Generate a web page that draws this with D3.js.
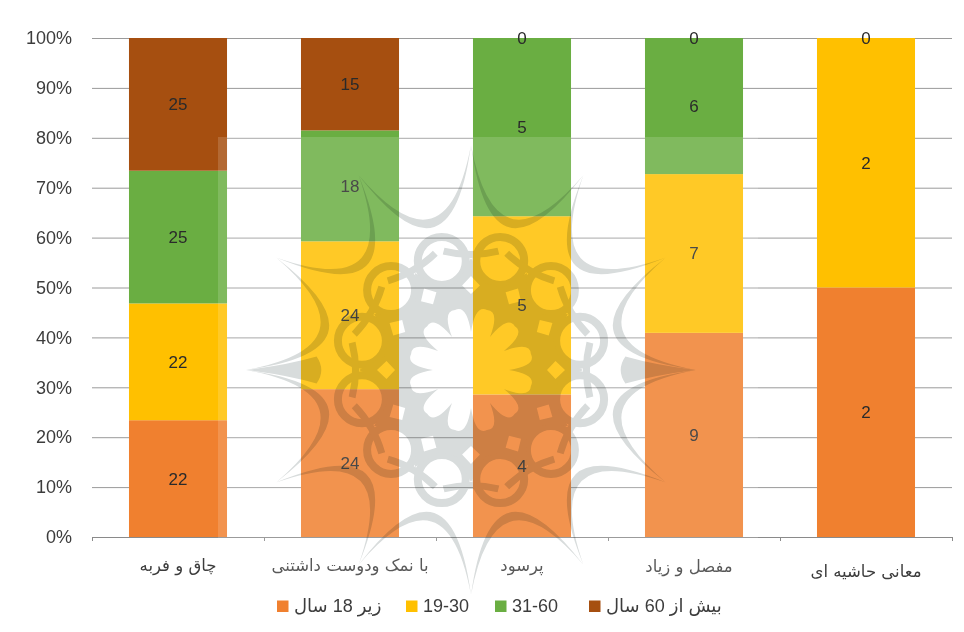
<!DOCTYPE html>
<html>
<head>
<meta charset="utf-8">
<script src="https://d3js.org/d3.v7.min.js"></script>
<style>
  html, body { margin: 0; padding: 0; background: #fff; }
  svg { display: block; }
  text { font-family: "Liberation Sans", "DejaVu Sans", sans-serif; }
</style>
</head>
<body>
<svg id="chart" width="964" height="632"></svg>
<script>
// values
const categories = ["چاق و فربه", "با نمک ودوست داشتنی", "پرسود", "مفصل و زیاد", "معانی حاشیه ای"]
const under18 = [22, 24, 4, 9, 2]
const age19to30 = [22, 24, 5, 7, 2]
const age31to60 = [25, 18, 5, 6, 0]
const over60 = [25, 15, 0, 0, 0]
const seriesNames = ["زیر 18 سال", "19-30", "31-60", "بیش از 60 سال"]
const percentTicks = [0, 0.1, 0.2, 0.3, 0.4, 0.5, 0.6, 0.7, 0.8, 0.9, 1]

const seriesValues = [under18, age19to30, age31to60, over60]
const colors = ["#F0802F", "#FFC000", "#6AAE42", "#A64F10"]

const marginLeft = 92, marginTop = 38
const chartWidth = 860, chartHeight = 499
const textColor = "#3c3c3c"

const svg = d3.select("#chart")
const g = svg.append("g").attr("transform", "translate(" + marginLeft + "," + marginTop + ")")

const rows = categories.map((c, i) => {
  const row = { category: c }
  seriesNames.forEach((s, j) => { row[s] = seriesValues[j][i] })
  return row
})
const stacked = d3.stack().keys(seriesNames).offset(d3.stackOffsetExpand)(rows)

const x = d3.scaleBand().domain(categories).range([0, chartWidth]).paddingInner(0.43).paddingOuter(0.215)
const y = d3.scaleLinear().domain([0, 1]).range([chartHeight, 0])

// gridlines and y labels
const yAxis = g.append("g")
  .call(d3.axisLeft(y).tickValues(percentTicks).tickFormat(d3.format(".0%")).tickSize(-chartWidth).tickPadding(20))
yAxis.select(".domain").remove()
yAxis.selectAll("line").attr("stroke", "#9a9a9a").attr("stroke-width", 1)
yAxis.selectAll("text").style("font-size", "18px").style("font-family", "'Liberation Sans'").attr("fill", textColor)

// bars
g.selectAll(".layer")
  .data(stacked)
  .join("g")
    .attr("class", "layer")
    .attr("fill", (d, i) => colors[i])
  .selectAll("rect")
  .data(d => d)
  .join("rect")
    .attr("x", d => x(d.data.category))
    .attr("width", x.bandwidth())
    .attr("y", d => y(d[1]))
    .attr("height", d => y(d[0]) - y(d[1]))

// x axis line with ticks on the category edges
const edges = d3.scaleLinear().domain([0, categories.length]).range([0, chartWidth])
const xAxis = g.append("g")
  .attr("transform", "translate(0," + chartHeight + ")")
  .call(d3.axisBottom(edges).tickValues(d3.range(categories.length + 1)).tickSize(4).tickSizeOuter(4).tickFormat(""))
xAxis.selectAll("path,line").attr("stroke", "#8a8a8a")

// the watermark image in the source washes out everything under it
svg.append("rect")
  .attr("x", 218).attr("y", 137).attr("width", 540).attr("height", 495)
  .attr("fill", "#fff").attr("opacity", 0.15)

// watermark rosette, multiply so it darkens bars as well as the white
const wmColor = "#d8dcdc"
const wm = svg.append("g")
  .attr("transform", "translate(471,370)")
  .style("mix-blend-mode", "multiply")
const polar = (r, deg) => {
  const a = deg * Math.PI / 180
  return (r * Math.cos(a)).toFixed(1) + "," + (r * Math.sin(a)).toFixed(1)
}
let outline = ""
let centre = ""
d3.range(12).forEach(k => {
  const a = k * 30
  // crescent from this tip to the next one
  outline += "M" + polar(225, a) + " Q" + polar(78, a + 15) + " " + polar(225, a + 30)
    + " Q" + polar(96, a + 15) + " " + polar(225, a) + "Z "
  // ring
  const ringAt = polar(113, a + 15).split(",")
  wm.append("circle").attr("cx", ringAt[0]).attr("cy", ringAt[1]).attr("r", 24)
    .attr("fill", "none").attr("stroke", wmColor).attr("stroke-width", 8)
  // inner side of the square cell between two rings
  wm.append("path").attr("fill", "none").attr("stroke", wmColor).attr("stroke-width", 7)
    .attr("d", "M" + polar(122, a - 13) + " Q" + polar(112, a) + " " + polar(122, a + 13))
  // solid band outline, scalloped where the rings sit
  centre += (k ? "L" : "M") + polar(112, a) + " L" + polar(88, a + 9) + " L" + polar(88, a + 21) + " "
})
wm.append("path").attr("fill", wmColor).attr("d", outline)
// only the left and right tips widen into a real spike
;[0, 180].forEach(a => {
  wm.append("path").attr("fill", wmColor)
    .attr("d", "M" + polar(225, a) + " Q" + polar(185, a - 1.5) + " " + polar(155, a - 5)
      + " Q" + polar(145, a) + " " + polar(155, a + 5)
      + " Q" + polar(185, a + 1.5) + " " + polar(225, a) + "Z")
})
centre += "Z "
// white flower in the middle and small diamonds in the band
d3.range(12).forEach(k => {
  const a = k * 30
  centre += (k ? "L" : "M") + polar(38, a) + " Q" + polar(66, a + 4) + " " + polar(62, a + 15)
    + " Q" + polar(66, a + 26) + " " + polar(38, a + 30) + " "
})
centre += "Z "
d3.range(12).forEach(k => {
  const a = k * 30
  centre += "M" + polar(76, a) + " L" + polar(85, a - 6) + " L" + polar(94, a) + " L" + polar(85, a + 6) + "Z "
})
wm.append("path").attr("fill", wmColor).attr("fill-rule", "evenodd").attr("d", centre)

// value labels, a zero under another zero is not repeated
g.selectAll(".layer-labels")
  .data(stacked)
  .join("g")
    .attr("class", "layer-labels")
  .selectAll("text")
  .data((d, i) => d.map(p => ({ p, v: p.data[d.key], last: i === stacked.length - 1 })).filter(e => e.v > 0 || e.last))
  .join("text")
    .attr("x", d => x(d.p.data.category) + x.bandwidth() / 2)
    .attr("y", d => y((d.p[0] + d.p[1]) / 2))
    .attr("dy", "0.35em")
    .attr("text-anchor", "middle")
    .style("font-size", "17px")
    .attr("fill", "#2a2a2a")
    .text(d => d.v)

// category labels, the last two sit a little off in the source
const catDx = [0, 0, 0, -5, 0]
const catY = [565, 565, 565, 566, 571]
g.selectAll(".cat")
  .data(categories)
  .join("text")
    .attr("class", "cat")
    .attr("x", (d, i) => x(d) + x.bandwidth() / 2 + catDx[i])
    .attr("y", (d, i) => catY[i] - marginTop)
    .attr("dy", "0.35em")
    .attr("text-anchor", "middle")
    .attr("direction", "rtl")
    .style("font-family", "'DejaVu Sans'")
    .style("font-size", "16.5px")
    .attr("fill", textColor)
    .text(d => d)

// legend
const legendX = [277, 406, 495, 589]
const legend = svg.selectAll(".legend")
  .data(seriesNames)
  .join("g")
    .attr("class", "legend")
    .attr("transform", (d, i) => "translate(" + legendX[i] + ",606)")
legend.append("rect")
  .attr("y", -5.5).attr("width", 11.5).attr("height", 11.5)
  .attr("fill", (d, i) => colors[i])
legend.append("text")
  .attr("x", 17)
  .attr("dy", "0.35em")
  .style("font-size", "18px")
  .style("unicode-bidi", "plaintext")
  .attr("fill", textColor)
  .text(d => d)
</script>
</body>
</html>
